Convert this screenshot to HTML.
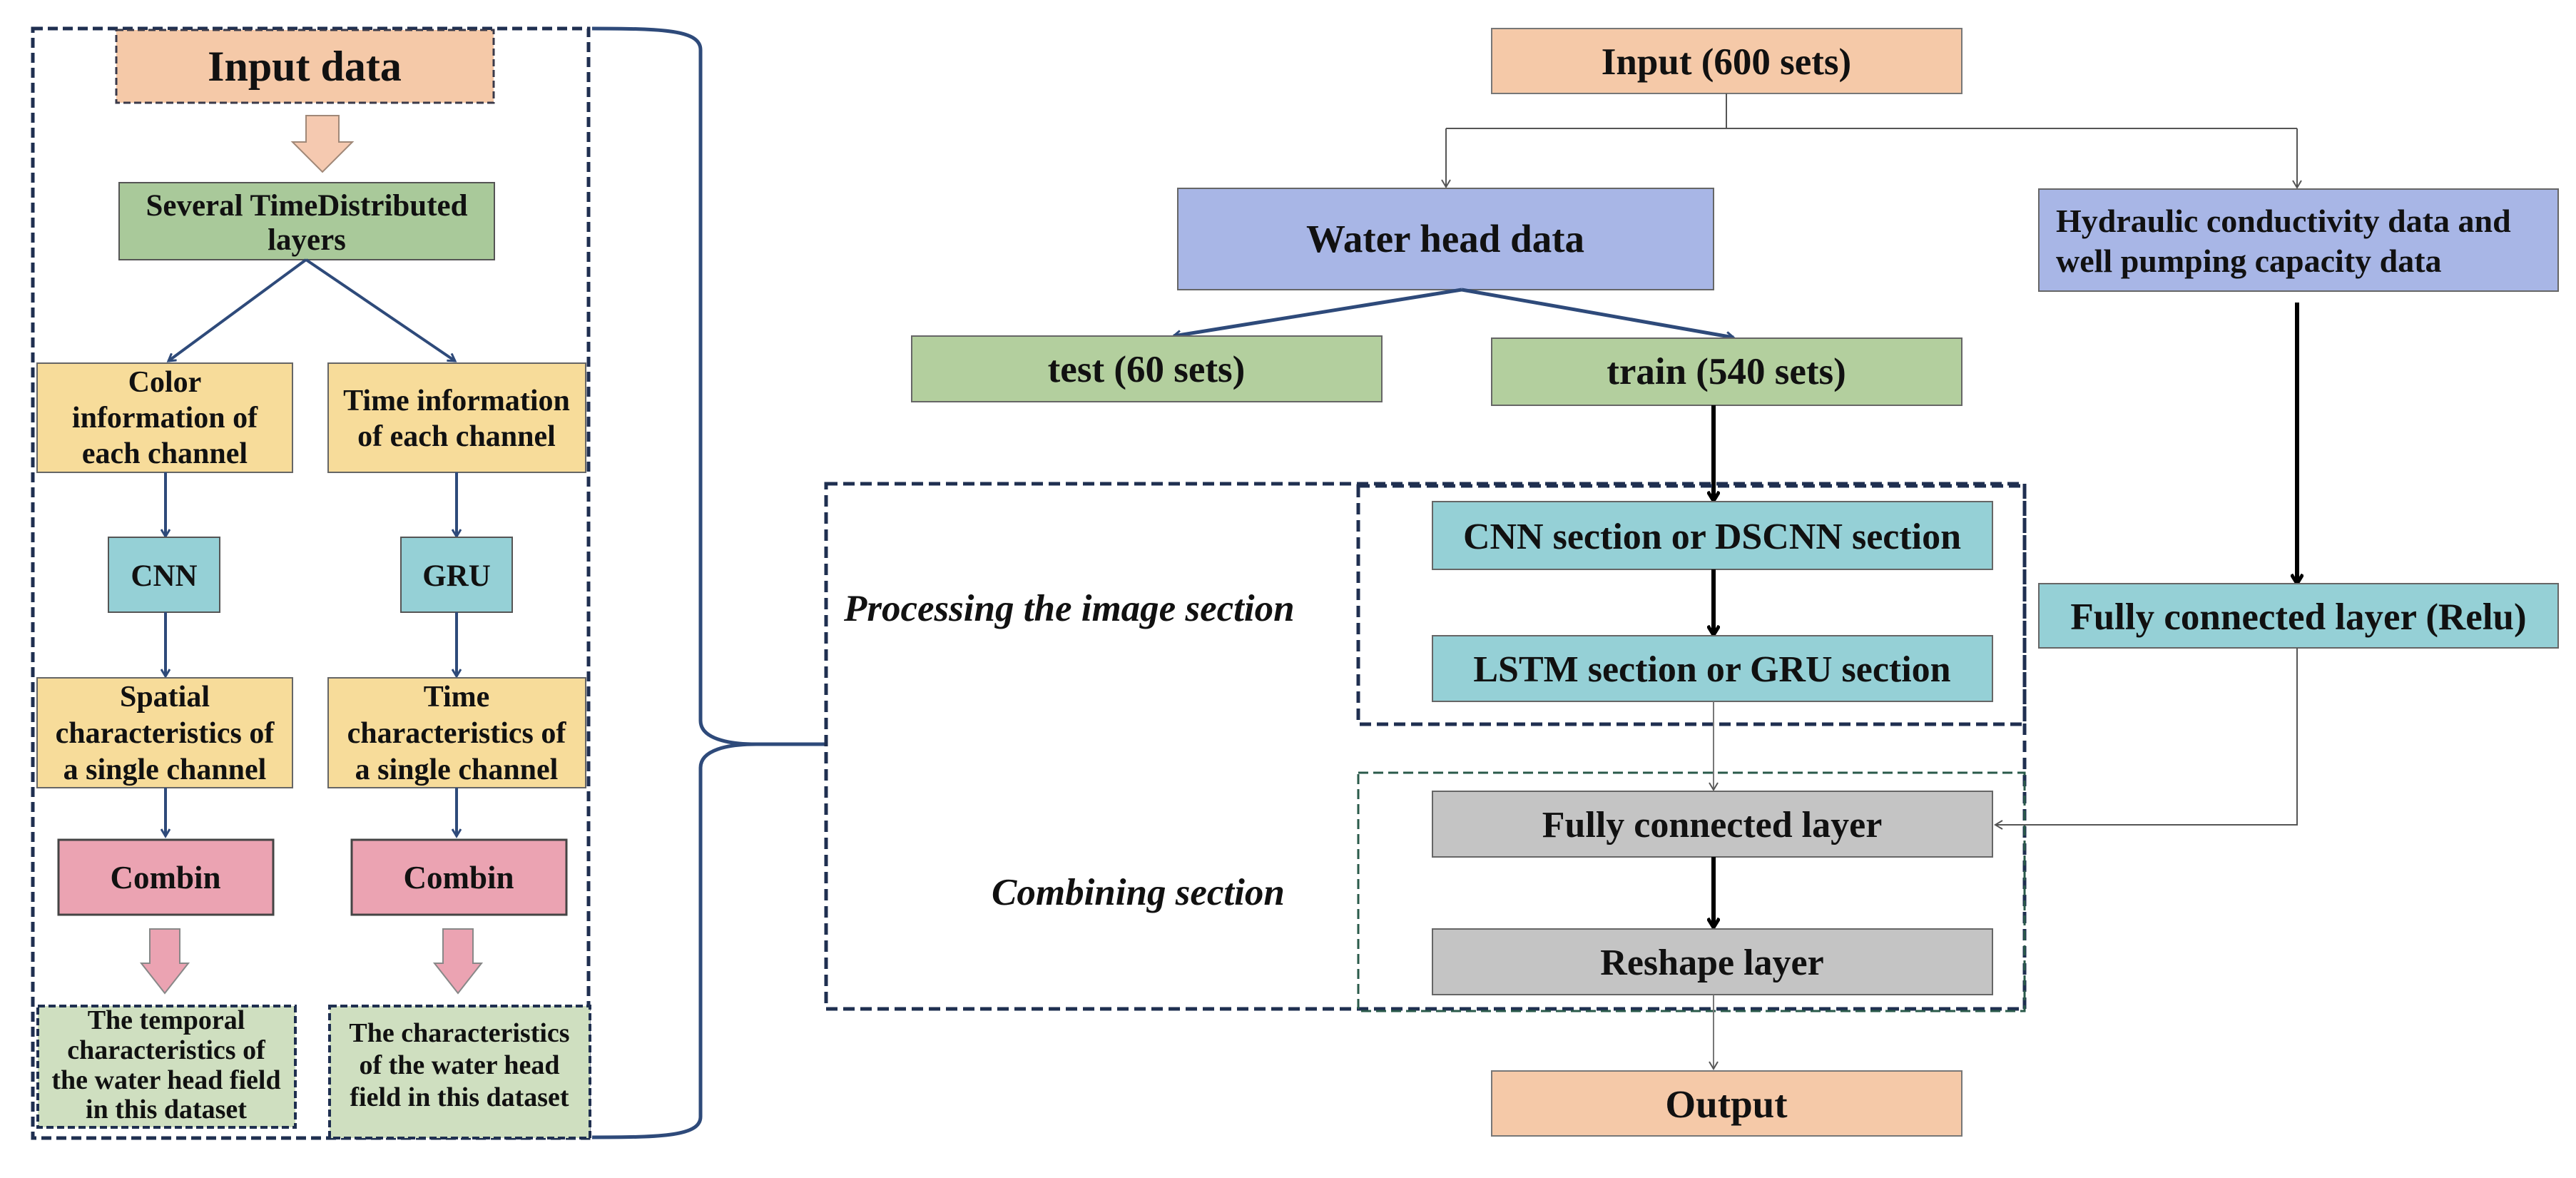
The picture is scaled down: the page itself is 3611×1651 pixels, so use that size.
<!DOCTYPE html>
<html><head><meta charset="utf-8"><style>
html,body{margin:0;padding:0;background:#fff}
svg{display:block}
text{font-family:"Liberation Serif",serif;font-weight:bold;fill:#111}
</style></head><body>
<svg width="3611" height="1651" viewBox="0 0 3611 1651" xmlns="http://www.w3.org/2000/svg">
<defs>
<marker id="ab" markerWidth="14" markerHeight="14" refX="11" refY="7" orient="auto" markerUnits="userSpaceOnUse"><path d="M1,1 L11,7 L1,13" fill="none" stroke="#2e4a7a" stroke-width="3"/></marker>
<marker id="ag" markerWidth="14" markerHeight="14" refX="11" refY="7" orient="auto" markerUnits="userSpaceOnUse"><path d="M1,1 L11,7 L1,13" fill="none" stroke="#555" stroke-width="2"/></marker>
<marker id="ak" markerWidth="18" markerHeight="18" refX="14" refY="9" orient="auto" markerUnits="userSpaceOnUse"><path d="M1,1 L14,9 L1,17" fill="none" stroke="#000" stroke-width="5"/></marker>
</defs>

<!-- LEFT PANEL -->
<rect x="46" y="40" width="779" height="1555" fill="none" stroke="#1f2f50" stroke-width="5" stroke-dasharray="14,7"/>
<rect x="163" y="42" width="529" height="102" fill="#f5c9a8" stroke="#3a3a4a" stroke-width="3" stroke-dasharray="10,5"/>
<text x="427" y="113" font-size="60" text-anchor="middle">Input data</text>
<path d="M429,162 H475 V199 H494 L452,241 L410,199 H429 Z" fill="#f5c9b0" stroke="#a08878" stroke-width="2"/>
<rect x="167" y="256" width="526" height="108" fill="#a9c99a" stroke="#555" stroke-width="2"/>
<text x="430" y="302" font-size="43" text-anchor="middle">Several TimeDistributed</text>
<text x="430" y="350" font-size="43" text-anchor="middle">layers</text>
<line x1="429" y1="364" x2="236" y2="506" stroke="#2e4a7a" stroke-width="4" marker-end="url(#ab)"/>
<line x1="429" y1="364" x2="638" y2="506" stroke="#2e4a7a" stroke-width="4" marker-end="url(#ab)"/>
<rect x="52" y="509" width="358" height="153" fill="#f7dc9a" stroke="#666" stroke-width="2"/>
<rect x="460" y="509" width="361" height="153" fill="#f7dc9a" stroke="#666" stroke-width="2"/>
<text x="231" y="549" font-size="42" text-anchor="middle">Color</text>
<text x="231" y="599" font-size="42" text-anchor="middle">information of</text>
<text x="231" y="649" font-size="42" text-anchor="middle">each channel</text>
<text x="640" y="575" font-size="42" text-anchor="middle">Time information</text>
<text x="640" y="625" font-size="42" text-anchor="middle">of each channel</text>
<line x1="232" y1="662" x2="232" y2="752" stroke="#2e4a7a" stroke-width="4" marker-end="url(#ab)"/>
<line x1="640" y1="662" x2="640" y2="752" stroke="#2e4a7a" stroke-width="4" marker-end="url(#ab)"/>
<rect x="152" y="753" width="156" height="105" fill="#95d0d6" stroke="#555" stroke-width="2"/>
<rect x="562" y="753" width="156" height="105" fill="#95d0d6" stroke="#555" stroke-width="2"/>
<text x="230" y="821" font-size="43" text-anchor="middle">CNN</text>
<text x="640" y="821" font-size="43" text-anchor="middle">GRU</text>
<line x1="232" y1="858" x2="232" y2="948" stroke="#2e4a7a" stroke-width="4" marker-end="url(#ab)"/>
<line x1="640" y1="858" x2="640" y2="948" stroke="#2e4a7a" stroke-width="4" marker-end="url(#ab)"/>
<rect x="52" y="950" width="358" height="154" fill="#f7dc9a" stroke="#666" stroke-width="2"/>
<rect x="460" y="950" width="361" height="154" fill="#f7dc9a" stroke="#666" stroke-width="2"/>
<text x="231" y="990" font-size="42" text-anchor="middle">Spatial</text>
<text x="231" y="1041" font-size="42" text-anchor="middle">characteristics of</text>
<text x="231" y="1092" font-size="42" text-anchor="middle">a single channel</text>
<text x="640" y="990" font-size="42" text-anchor="middle">Time</text>
<text x="640" y="1041" font-size="42" text-anchor="middle">characteristics of</text>
<text x="640" y="1092" font-size="42" text-anchor="middle">a single channel</text>
<line x1="232" y1="1104" x2="232" y2="1172" stroke="#2e4a7a" stroke-width="4" marker-end="url(#ab)"/>
<line x1="640" y1="1104" x2="640" y2="1172" stroke="#2e4a7a" stroke-width="4" marker-end="url(#ab)"/>
<rect x="82" y="1177" width="301" height="105" fill="#eba3b2" stroke="#444" stroke-width="3"/>
<rect x="493" y="1177" width="301" height="105" fill="#eba3b2" stroke="#444" stroke-width="3"/>
<text x="232" y="1245" font-size="45" text-anchor="middle">Combin</text>
<text x="643" y="1245" font-size="45" text-anchor="middle">Combin</text>
<path d="M210,1302 H252 V1350 H264 L231,1392 L198,1350 H210 Z" fill="#eba3b2" stroke="#888" stroke-width="2"/>
<path d="M621,1302 H663 V1350 H675 L642,1392 L609,1350 H621 Z" fill="#eba3b2" stroke="#888" stroke-width="2"/>
<rect x="53" y="1410" width="361" height="170" fill="#cfdfc0" stroke="#1f2f50" stroke-width="4" stroke-dasharray="10,5"/>
<rect x="462" y="1410" width="365" height="185" fill="#cfdfc0" stroke="#1f2f50" stroke-width="4" stroke-dasharray="10,5"/>
<text x="233" y="1442" font-size="38" text-anchor="middle">The temporal</text>
<text x="233" y="1484" font-size="38" text-anchor="middle">characteristics of</text>
<text x="233" y="1526" font-size="38" text-anchor="middle">the water head field</text>
<text x="233" y="1567" font-size="38" text-anchor="middle">in this dataset</text>
<text x="644" y="1460" font-size="38" text-anchor="middle">The characteristics</text>
<text x="644" y="1505" font-size="38" text-anchor="middle">of the water head</text>
<text x="644" y="1550" font-size="38" text-anchor="middle">field in this dataset</text>

<!-- BRACE -->
<path d="M830,40 C930,40 982,42 982,70 V1010 C982,1035 1020,1043 1060,1043 H1158 M1060,1043 C1020,1043 982,1051 982,1076 V1565 C982,1592 930,1594 830,1594" fill="none" stroke="#2e4a7a" stroke-width="5"/>

<!-- RIGHT PANEL -->
<rect x="2091" y="40" width="659" height="91" fill="#f5c9a8" stroke="#777" stroke-width="2"/>
<text x="2420" y="104" font-size="53" text-anchor="middle">Input (600 sets)</text>
<polyline points="2420,131 2420,180" fill="none" stroke="#555" stroke-width="2"/>
<polyline points="2027,180 3220,180" fill="none" stroke="#555" stroke-width="2"/>
<line x1="2027" y1="180" x2="2027" y2="262" stroke="#555" stroke-width="2" marker-end="url(#ag)"/>
<line x1="3220" y1="180" x2="3220" y2="263" stroke="#555" stroke-width="2" marker-end="url(#ag)"/>
<rect x="1651" y="264" width="751" height="142" fill="#a8b6e6" stroke="#666" stroke-width="2"/>
<text x="2026" y="353" font-size="55" text-anchor="middle">Water head data</text>
<rect x="2858" y="265" width="728" height="143" fill="#a8b6e6" stroke="#666" stroke-width="2"/>
<text x="2882" y="325" font-size="46">Hydraulic conductivity data and</text>
<text x="2882" y="381" font-size="46">well pumping capacity data</text>
<line x1="2049" y1="406" x2="1645" y2="471" stroke="#2e4a7a" stroke-width="5" marker-end="url(#ab)"/>
<line x1="2049" y1="406" x2="2430" y2="473" stroke="#2e4a7a" stroke-width="5" marker-end="url(#ab)"/>
<rect x="1278" y="471" width="659" height="92" fill="#b3cf9e" stroke="#666" stroke-width="2"/>
<text x="1607" y="535" font-size="53" text-anchor="middle">test (60 sets)</text>
<rect x="2091" y="474" width="659" height="94" fill="#b3cf9e" stroke="#666" stroke-width="2"/>
<text x="2420" y="538" font-size="53" text-anchor="middle">train (540 sets)</text>
<line x1="2402" y1="568" x2="2402" y2="702" stroke="#000" stroke-width="6" marker-end="url(#ak)"/>

<rect x="1158" y="678" width="1680" height="736" fill="none" stroke="#1f2f50" stroke-width="5" stroke-dasharray="16,8"/>
<rect x="1904" y="681" width="934" height="334" fill="none" stroke="#1f2f50" stroke-width="5" stroke-dasharray="16,8"/>
<rect x="1904" y="1083" width="934" height="334" fill="none" stroke="#2a5a4a" stroke-width="3" stroke-dasharray="14,7"/>
<text x="1183" y="870" font-size="53" font-style="italic">Processing the image section</text>
<text x="1390" y="1268" font-size="53" font-style="italic">Combining section</text>

<rect x="2008" y="703" width="785" height="95" fill="#95d0d6" stroke="#666" stroke-width="2"/>
<text x="2400" y="769" font-size="52" text-anchor="middle">CNN section or DSCNN section</text>
<line x1="2402" y1="798" x2="2402" y2="890" stroke="#000" stroke-width="6" marker-end="url(#ak)"/>
<rect x="2008" y="891" width="785" height="92" fill="#95d0d6" stroke="#666" stroke-width="2"/>
<text x="2400" y="955" font-size="52" text-anchor="middle">LSTM section or GRU section</text>
<line x1="2402" y1="983" x2="2402" y2="1107" stroke="#777" stroke-width="2" marker-end="url(#ag)"/>
<rect x="2008" y="1109" width="785" height="92" fill="#c4c4c4" stroke="#666" stroke-width="2"/>
<text x="2400" y="1173" font-size="52" text-anchor="middle">Fully connected layer</text>
<line x1="2402" y1="1201" x2="2402" y2="1300" stroke="#000" stroke-width="6" marker-end="url(#ak)"/>
<rect x="2008" y="1302" width="785" height="92" fill="#c4c4c4" stroke="#666" stroke-width="2"/>
<text x="2400" y="1366" font-size="52" text-anchor="middle">Reshape layer</text>
<line x1="2402" y1="1394" x2="2402" y2="1498" stroke="#777" stroke-width="2" marker-end="url(#ag)"/>
<rect x="2091" y="1501" width="659" height="91" fill="#f5c9a8" stroke="#777" stroke-width="2"/>
<text x="2420" y="1566" font-size="55" text-anchor="middle">Output</text>

<line x1="3220" y1="424" x2="3220" y2="818" stroke="#000" stroke-width="6" marker-end="url(#ak)"/>
<rect x="2858" y="818" width="728" height="90" fill="#95d0d6" stroke="#666" stroke-width="2"/>
<text x="3222" y="882" font-size="53" text-anchor="middle">Fully connected layer (Relu)</text>
<polyline points="3220,908 3220,1156 2797,1156" fill="none" stroke="#555" stroke-width="2" marker-end="url(#ag)"/>
</svg>
</body></html>
